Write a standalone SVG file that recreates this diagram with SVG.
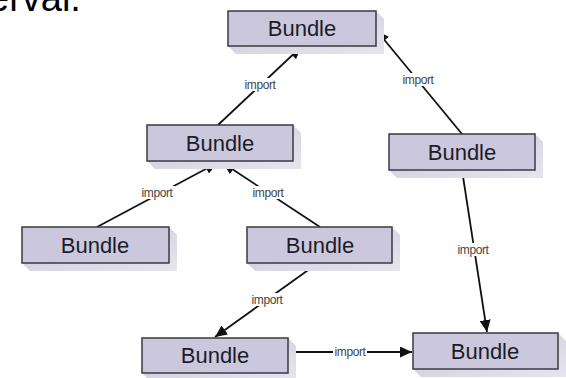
<svg xmlns="http://www.w3.org/2000/svg" width="566" height="378" viewBox="0 0 566 378">
<defs>
<marker id="arr" markerUnits="userSpaceOnUse" markerWidth="13" markerHeight="11" refX="12" refY="5.5" orient="auto">
<path d="M0,0 L12,5.5 L0,11 z" fill="#111"/>
</marker>
<linearGradient id="sh" x1="0" y1="0" x2="1" y2="1">
<stop offset="0" stop-color="#c9c7d8"/>
<stop offset="1" stop-color="#e6e5ee"/>
</linearGradient>
</defs>
<style>
.box{fill:#cbc8de;stroke:#3a3a44;stroke-width:1.5}
.shadow{fill:url(#sh)}
.name{font-family:"Liberation Sans",Arial,sans-serif;font-size:22px;fill:#1c1c28;text-anchor:middle}
.edge{stroke:#111;stroke-width:1.8;fill:none;marker-end:url(#arr)}
.lbl{font-family:"Liberation Sans",Arial,sans-serif;font-size:12px;fill:#444;text-anchor:middle;letter-spacing:-0.4px}
.lblbg{fill:#fff}
</style>
<rect width="566" height="378" fill="#fff"/>
<text x="-12" y="11" font-family="'Liberation Sans',Arial,sans-serif" font-size="38" fill="#000">erval.</text>

<g id="connectors">
<line class="edge" x1="218" y1="125" x2="301" y2="47"/>
<line class="edge" x1="462" y1="134" x2="377" y2="31"/>
<line class="edge" x1="97" y1="227" x2="217" y2="163"/>
<line class="edge" x1="320" y1="227" x2="223" y2="163"/>
<line class="edge" x1="318" y1="263" x2="215" y2="337"/>
<line class="edge" x1="462" y1="170" x2="487" y2="332"/>
<line class="edge" x1="288" y1="352" x2="412" y2="352"/>
<rect class="lblbg" x="242" y="78" width="36" height="13"/>
<text class="lbl" x="260" y="89">import</text>
<rect class="lblbg" x="400" y="73" width="36" height="13"/>
<text class="lbl" x="418" y="84">import</text>
<rect class="lblbg" x="139" y="186" width="36" height="13"/>
<text class="lbl" x="157" y="197">import</text>
<rect class="lblbg" x="250" y="186" width="36" height="13"/>
<text class="lbl" x="268" y="197">import</text>
<rect class="lblbg" x="249" y="293" width="36" height="13"/>
<text class="lbl" x="267" y="304">import</text>
<rect class="lblbg" x="455" y="243" width="36" height="13"/>
<text class="lbl" x="473" y="254">import</text>
<rect class="lblbg" x="333" y="345" width="34" height="13"/>
<text class="lbl" x="350" y="356">import</text>
</g>

<g id="n1">
<polygon class="shadow" points="228,46 236,54 384,54 384,19 376,11"/>
<rect class="box" x="228" y="11" width="148" height="35"/>
<text class="name" x="302" y="36">Bundle</text>
</g>
<g id="n2">
<polygon class="shadow" points="147,161 155,169 301,169 301,133 293,125"/>
<rect class="box" x="147" y="125" width="146" height="36"/>
<text class="name" x="220" y="151">Bundle</text>
</g>
<g id="n3">
<polygon class="shadow" points="389,170 397,178 543,178 543,142 535,134"/>
<rect class="box" x="389" y="134" width="146" height="36"/>
<text class="name" x="462" y="160">Bundle</text>
</g>
<g id="n4">
<polygon class="shadow" points="22,263 30,271 177,271 177,235 169,227"/>
<rect class="box" x="22" y="227" width="147" height="36"/>
<text class="name" x="95" y="253">Bundle</text>
</g>
<g id="n5">
<polygon class="shadow" points="247,263 255,271 400,271 400,235 392,227"/>
<rect class="box" x="247" y="227" width="145" height="36"/>
<text class="name" x="320" y="253">Bundle</text>
</g>
<g id="n6">
<polygon class="shadow" points="142,373 150,381 296,381 296,346 288,338"/>
<rect class="box" x="142" y="338" width="146" height="35"/>
<text class="name" x="215" y="363">Bundle</text>
</g>
<g id="n7">
<polygon class="shadow" points="413,369 421,377 566,377 566,341 558,333"/>
<rect class="box" x="413" y="333" width="145" height="36"/>
<text class="name" x="485" y="359">Bundle</text>
</g>
</svg>
